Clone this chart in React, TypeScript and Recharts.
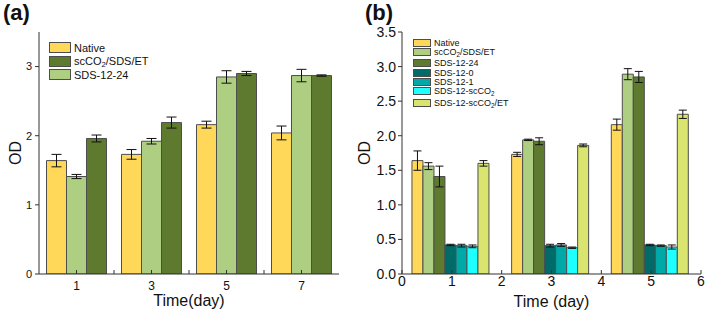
import type { ReactNode } from 'react';
import { Bar, BarChart, ErrorBar, Legend, XAxis, YAxis } from 'recharts';

const FONT = '"Liberation Sans", Arial, sans-serif';
const AXIS = '#333';
const EDGE = '#4d4d4d';
const INK = '#111';

// panel (a)
const DAYS_A = ['1', '3', '5', '7'];
const NATIVE_A = [1.64, 1.73, 2.16, 2.04];
const NATIVE_A_ERR = [0.09, 0.07, 0.05, 0.1];
const SDS1224_A = [1.41, 1.92, 2.85, 2.87];
const SDS1224_A_ERR = [0.03, 0.04, 0.09, 0.09];
const SCCO2_A = [1.96, 2.19, 2.9, 2.87];
const SCCO2_A_ERR = [0.05, 0.08, 0.03, 0.01];
const X_TICKS_A = [1, 2, 3, 4, 5, 6, 7];
const X_LABELS_A = [1, 3, 5, 7];
const Y_TICKS_A = [0, 1, 2, 3];

// panel (b)
const DAYS_B = ['1', '3', '5'];
const NATIVE_B = [1.64, 1.73, 2.16];
const NATIVE_B_ERR = [0.14, 0.03, 0.08];
const SCCO2_B = [1.56, 1.94, 2.89];
const SCCO2_B_ERR = [0.05, 0.01, 0.08];
const SDS1224_B = [1.41, 1.92, 2.85];
const SDS1224_B_ERR = [0.15, 0.05, 0.08];
const SDS120_B = [0.42, 0.41, 0.42];
const SDS120_B_ERR = [0.01, 0.02, 0.01];
const SDS121_B = [0.41, 0.42, 0.41];
const SDS121_B_ERR = [0.02, 0.02, 0.01];
const SDS12SC_B = [0.4, 0.38, 0.39];
const SDS12SC_B_ERR = [0.02, 0.01, 0.03];
const SDS12SCET_B = [1.6, 1.86, 2.31];
const SDS12SCET_B_ERR = [0.04, 0.02, 0.06];
const X_TICKS_B = [0, 1, 2, 3, 4, 5, 6];
const X_LABELS_B = [0, 1, 2, 3, 4, 5, 6];
const Y_TICKS_B = [0, 0.5, 1, 1.5, 2, 2.5, 3, 3.5];

type Series = { key: string; name: string; color: string; values: number[]; errors: number[] };

const YELLOW = '#ffd85a';
const LIGHT_GREEN = '#aecf82';
const DARK_GREEN = '#5e7a2e';

// bar order in (a): yellow, light green, dark green
const SERIES_A: Series[] = [
  { key: 'native', name: 'Native', color: YELLOW, values: NATIVE_A, errors: NATIVE_A_ERR },
  { key: 'sds1224', name: 'SDS-12-24', color: LIGHT_GREEN, values: SDS1224_A, errors: SDS1224_A_ERR },
  { key: 'scco2', name: 'scCO2/SDS/ET', color: DARK_GREEN, values: SCCO2_A, errors: SCCO2_A_ERR },
];
const LEGEND_A = ['native', 'scco2', 'sds1224'];

const SERIES_B: Series[] = [
  { key: 'native', name: 'Native', color: YELLOW, values: NATIVE_B, errors: NATIVE_B_ERR },
  { key: 'scco2', name: 'scCO2/SDS/ET', color: LIGHT_GREEN, values: SCCO2_B, errors: SCCO2_B_ERR },
  { key: 'sds1224', name: 'SDS-12-24', color: DARK_GREEN, values: SDS1224_B, errors: SDS1224_B_ERR },
  { key: 'sds120', name: 'SDS-12-0', color: '#006b68', values: SDS120_B, errors: SDS120_B_ERR },
  { key: 'sds121', name: 'SDS-12-1', color: '#00a8a8', values: SDS121_B, errors: SDS121_B_ERR },
  { key: 'sds12sc', name: 'SDS-12-scCO2', color: '#1effff', values: SDS12SC_B, errors: SDS12SC_B_ERR },
  { key: 'sds12scet', name: 'SDS-12-scCO2/ET', color: '#d9e56e', values: SDS12SCET_B, errors: SDS12SCET_B_ERR },
];
const LEGEND_B = SERIES_B.map((s) => s.key);

const buildRows = (days: string[], series: Series[]) =>
  days.map((day, i) => {
    const row: Record<string, string | number> = { day };
    series.forEach((s) => {
      row[s.key] = s.values[i];
      row[`${s.key}Err`] = s.errors[i];
    });
    return row;
  });

const ROWS_A = buildRows(DAYS_A, SERIES_A);
const ROWS_B = buildRows(DAYS_B, SERIES_B);

// layout
const W = 354;
const H = 316;
const MARGIN_A = { top: 32, right: 15, bottom: 0, left: 0 };
const MARGIN_B = { top: 32, right: 7, bottom: 0, left: 0 };
const YW_A = 39;
const YW_B = 48;
const BAND_A = (W - MARGIN_A.right - YW_A) / DAYS_A.length;
const BAND_B = (W - MARGIN_B.right - YW_B) / DAYS_B.length;

const renderName = (name: string): ReactNode[] =>
  name.split('CO2').flatMap((part, i) =>
    i === 0
      ? [part]
      : [
          <span key={i}>
            CO<span style={{ fontSize: '0.7em', verticalAlign: '-0.25em', lineHeight: 0 }}>2</span>
          </span>,
          part,
        ],
  );

interface LegendBoxProps {
  series: Series[];
  order: string[];
  swatchW: number;
  swatchH: number;
  fontSize: number;
  rowH: number;
  gapBefore?: number[];
}

const LegendBox = ({ series, order, swatchW, swatchH, fontSize, rowH, gapBefore = [] }: LegendBoxProps) => (
  <div style={{ fontFamily: FONT, fontSize, color: INK }}>
    {order.map((key, i) => {
      const s = series.find((item) => item.key === key)!;
      return (
        <div
          key={key}
          style={{
            display: 'flex',
            alignItems: 'center',
            height: rowH,
            marginTop: gapBefore.includes(i) ? 2.5 : 0,
            whiteSpace: 'nowrap',
          }}
        >
          <span
            style={{
              display: 'inline-block',
              width: swatchW,
              height: swatchH,
              background: s.color,
              border: `1px solid ${EDGE}`,
              marginRight: 3,
              boxSizing: 'border-box',
            }}
          />
          <span>{renderName(s.name)}</span>
        </div>
      );
    })}
  </div>
);

// Each category band spans two days (centre = its label). Ticks and labels that
// fall inside a band are placed relative to the band centre; the last band also
// takes its right edge.
const bandTick =
  (band: number, ticks: number[], labels: number[], count: number, fontSize: number, labelDy: number) =>
  (props: any) => {
    const { x, y, payload, index } = props;
    const v = Number(payload.value);
    const last = index === count - 1;
    const inBand = (t: number) => t >= v - 1 && (last ? t <= v + 1 : t < v + 1);
    const px = (t: number) => x + ((t - v) * band) / 2;
    return (
      <g>
        {ticks.filter(inBand).map((t) => (
          <line key={`l${t}`} x1={px(t)} x2={px(t)} y1={y} y2={y - 4} stroke={AXIS} strokeWidth={1} />
        ))}
        {labels.filter(inBand).map((t) => (
          <text key={`t${t}`} x={px(t)} y={y + labelDy} textAnchor="middle" fill={INK} fontSize={fontSize} fontFamily={FONT}>
            {t}
          </text>
        ))}
      </g>
    );
  };

const tickStyle = (fontSize: number) => ({ fill: INK, fontSize, fontFamily: FONT });

const PanelA = () => (
  <BarChart width={W} height={H} data={ROWS_A} margin={MARGIN_A} barCategoryGap="10%" barGap={0}>
    <XAxis
      dataKey="day"
      height={42}
      tickSize={0}
      tickMargin={0}
      tickLine={false}
      interval={0}
      stroke={AXIS}
      tick={bandTick(BAND_A, X_TICKS_A, X_LABELS_A, DAYS_A.length, 12, 16)}
      label={{ value: 'Time(day)', position: 'insideBottom', offset: 10, fill: INK, fontSize: 16, fontFamily: FONT }}
    />
    <XAxis xAxisId="top" orientation="top" dataKey="day" tick={false} tickLine={false} height={0} stroke={AXIS} />
    <YAxis
      domain={[0, 3.5]}
      allowDataOverflow
      ticks={Y_TICKS_A}
      width={YW_A}
      tickSize={4}
      tickMargin={3}
      stroke={AXIS}
      tick={tickStyle(11)}
      label={{ value: 'OD', angle: -90, position: 'insideLeft', offset: 15, style: { textAnchor: 'middle' }, fill: INK, fontSize: 16, fontFamily: FONT }}
    />
    <YAxis yAxisId="right" orientation="right" domain={[0, 3.5]} allowDataOverflow tick={false} tickLine={false} width={0} stroke={AXIS} />
    {SERIES_A.map((s) => (
      <Bar key={s.key} dataKey={s.key} name={s.name} fill={s.color} stroke={EDGE} strokeWidth={1} isAnimationActive={false}>
        <ErrorBar dataKey={`${s.key}Err`} width={5} stroke={INK} strokeWidth={1} />
      </Bar>
    ))}
    <Legend
      layout="vertical"
      align="center"
      verticalAlign="middle"
      wrapperStyle={{ top: 41, left: 49, width: 'auto' }}
      content={() => <LegendBox series={SERIES_A} order={LEGEND_A} swatchW={22} swatchH={11} fontSize={11} rowH={13.5} />}
    />
  </BarChart>
);

const PanelB = () => (
  <BarChart width={W} height={H} data={ROWS_B} margin={MARGIN_B} barCategoryGap="10%" barGap={0}>
    <XAxis
      dataKey="day"
      height={42}
      tickSize={0}
      tickMargin={0}
      tickLine={false}
      interval={0}
      stroke={AXIS}
      tick={bandTick(BAND_B, X_TICKS_B, X_LABELS_B, DAYS_B.length, 14, 12)}
      label={{ value: 'Time (day)', position: 'insideBottom', offset: 9, fill: INK, fontSize: 16, fontFamily: FONT }}
    />
    <XAxis xAxisId="top" orientation="top" dataKey="day" tick={false} tickLine={false} height={0} stroke={AXIS} />
    <YAxis
      domain={[0, 3.5]}
      allowDataOverflow
      ticks={Y_TICKS_B}
      tickFormatter={(v: number) => v.toFixed(1)}
      width={YW_B}
      tickSize={4}
      tickMargin={2}
      stroke={AXIS}
      tick={tickStyle(14)}
      label={{ value: 'OD', angle: -90, position: 'insideLeft', offset: 10, style: { textAnchor: 'middle' }, fill: INK, fontSize: 16, fontFamily: FONT }}
    />
    <YAxis yAxisId="right" orientation="right" domain={[0, 3.5]} allowDataOverflow tick={false} tickLine={false} width={0} stroke={AXIS} />
    {SERIES_B.map((s) => (
      <Bar key={s.key} dataKey={s.key} name={s.name} fill={s.color} stroke={EDGE} strokeWidth={1} isAnimationActive={false}>
        <ErrorBar dataKey={`${s.key}Err`} width={4} stroke={INK} strokeWidth={1} />
      </Bar>
    ))}
    <Legend
      layout="vertical"
      align="center"
      verticalAlign="middle"
      wrapperStyle={{ top: 38, left: 59, width: 'auto' }}
      content={() => (
        <LegendBox series={SERIES_B} order={LEGEND_B} swatchW={18} swatchH={8} fontSize={9} rowH={9.2} gapBefore={[2, 6]} />
      )}
    />
  </BarChart>
);

const titleStyle = {
  position: 'absolute' as const,
  top: 0,
  fontFamily: FONT,
  fontWeight: 700,
  fontSize: 22,
  lineHeight: 'normal',
  color: INK,
};

export default function App() {
  return (
    <div style={{ position: 'absolute', left: 0, top: 0, width: 708, height: 316, background: '#fff', overflow: 'hidden' }}>
      <div style={{ position: 'absolute', left: 0, top: 0 }}>
        <PanelA />
      </div>
      <div style={{ position: 'absolute', left: 354, top: 0 }}>
        <PanelB />
      </div>
      <div style={{ ...titleStyle, left: 3 }}>(a)</div>
      <div style={{ ...titleStyle, left: 365 }}>(b)</div>
    </div>
  );
}
